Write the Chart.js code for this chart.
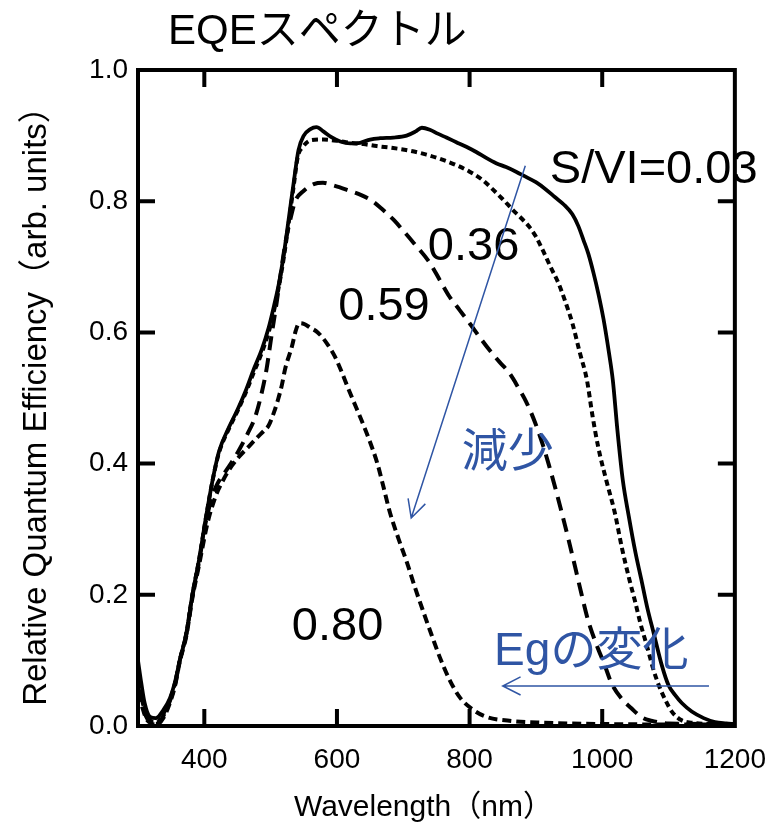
<!DOCTYPE html>
<html><head><meta charset="utf-8">
<script src="https://cdn.jsdelivr.net/npm/chart.js@4"></script>
<style>html,body{margin:0;padding:0;background:#fff}</style>
</head><body>
<canvas id="c" width="783" height="829"></canvas>
<script>
// ---- data ----
const chartTitle = 'EQEスペクトル';
const xAxisTitle = 'Wavelength（nm）';
const yAxisTitle = 'Relative Quantum Efficiency（arb. units）';
const xTickValues = [400, 600, 800, 1000, 1200];
const yTickValues = [0, 0.2, 0.4, 0.6, 0.8, 1.0];
const seriesNames = ['S/VI=0.03', '0.36', '0.59', '0.80'];

const wl003 = [300,305,310,318,327,338,348,356,363,373,382,392,402,412,422,437,450,462,475,487,497,505,512,520,527,535,542,550,560,569,580,591,605,620,635,650,665,685,705,718,728,740,752,765,780,795,810,825,840,855,870,885,900,915,929,942,955,964,972,979,987,994,1002,1010,1016,1023,1031,1040,1050,1059,1068,1078,1090,1100,1110,1120,1135,1153,1170,1187,1200];
const eqe003 = [0.10,0.065,0.035,0.014,0.012,0.024,0.042,0.068,0.10,0.142,0.20,0.253,0.315,0.372,0.418,0.455,0.482,0.51,0.545,0.575,0.607,0.64,0.672,0.72,0.771,0.83,0.878,0.90,0.91,0.913,0.906,0.898,0.891,0.888,0.889,0.894,0.896,0.897,0.90,0.906,0.912,0.909,0.903,0.897,0.89,0.883,0.875,0.866,0.858,0.852,0.845,0.837,0.829,0.818,0.806,0.795,0.78,0.762,0.74,0.72,0.69,0.66,0.62,0.57,0.527,0.45,0.375,0.32,0.265,0.223,0.18,0.14,0.092,0.062,0.047,0.035,0.022,0.012,0.006,0.004,0.003];

const wl036 = [300,306,312,320,328,338,348,356,363,373,382,392,402,412,422,437,450,462,475,487,497,505,512,520,527,535,541,548,561,580,600,620,640,660,685,710,735,760,780,800,820,835,850,865,878,890,900,910,922,934,945,955,966,977,985,994,1006,1019,1030,1041,1049,1058,1068,1076,1085,1095,1105,1119,1135,1160,1200];
const eqe036 = [0.07,0.04,0.02,0.007,0.005,0.018,0.04,0.066,0.10,0.142,0.20,0.253,0.315,0.372,0.416,0.453,0.48,0.507,0.54,0.57,0.60,0.633,0.668,0.715,0.765,0.825,0.868,0.882,0.893,0.894,0.892,0.889,0.887,0.884,0.881,0.877,0.871,0.863,0.855,0.845,0.832,0.818,0.803,0.787,0.774,0.761,0.746,0.726,0.70,0.675,0.645,0.614,0.57,0.527,0.475,0.425,0.375,0.325,0.27,0.223,0.192,0.155,0.12,0.09,0.063,0.04,0.022,0.009,0.005,0.003,0.002];

const wl059 = [300,306,312,320,328,338,348,356,363,373,382,392,402,412,420,430,440,452,465,477,487,494,501,509,516,522,527,532,537,550,565,579,595,616,635,651,668,686,700,716,740,755,770,785,800,815,830,845,860,874,885,899,910,919,930,939,949,959,969,979,991,1004,1014,1029,1044,1060,1074,1100,1200];
const eqe059 = [0.06,0.035,0.015,0.005,0.003,0.015,0.038,0.064,0.10,0.14,0.198,0.25,0.31,0.35,0.37,0.385,0.40,0.42,0.445,0.472,0.51,0.545,0.593,0.645,0.695,0.735,0.76,0.782,0.80,0.816,0.826,0.828,0.824,0.817,0.81,0.802,0.788,0.771,0.755,0.736,0.706,0.68,0.654,0.634,0.614,0.593,0.573,0.555,0.538,0.515,0.495,0.462,0.43,0.40,0.36,0.325,0.285,0.243,0.20,0.16,0.125,0.092,0.065,0.042,0.027,0.013,0.008,0.004,0.003];

const wl080 = [300,306,312,320,328,338,348,356,363,373,382,392,405,417,427,437,452,467,480,490,497,505,511,517,522,532,538,543,550,560,571,585,597,607,616,625,635,648,661,670,680,693,706,718,731,743,755,770,785,805,825,860,910,1000,1200];
const eqe080 = [0.05,0.03,0.012,0.004,0.002,0.012,0.035,0.062,0.098,0.138,0.195,0.245,0.31,0.35,0.372,0.39,0.41,0.426,0.44,0.45,0.458,0.478,0.497,0.52,0.545,0.578,0.603,0.614,0.613,0.607,0.60,0.583,0.563,0.54,0.517,0.495,0.471,0.438,0.40,0.365,0.325,0.285,0.248,0.21,0.172,0.138,0.105,0.07,0.044,0.025,0.014,0.008,0.005,0.003,0.002];

// ---- styling ----
const FONT = "'Liberation Sans', Arial, 'Noto Sans CJK JP', sans-serif";
const BLUE = '#2f55a4';
const toPts = (xs, ys) => xs.map((x, i) => ({x, y: ys[i]}));

const seriesData = [toPts(wl003, eqe003), toPts(wl036, eqe036), toPts(wl059, eqe059), toPts(wl080, eqe080)];
const seriesDash = [[], [6, 4], [14, 8], [9, 5]];
const seriesWidth = [3.8, 4, 4, 4];

// annotations (positioned in data units)
const notes = [
  {text: seriesNames[0], x: 921, y: 0.828, size: 47, color: '#000', base: 'alphabetic'},
  {text: seriesNames[1], x: 737, y: 0.710, size: 47, color: '#000', base: 'alphabetic'},
  {text: seriesNames[2], x: 602, y: 0.619, size: 47, color: '#000', base: 'alphabetic'},
  {text: seriesNames[3], x: 532, y: 0.131, size: 47, color: '#000', base: 'alphabetic'},
  {text: '減少', x: 788, y: 0.415, size: 46, color: BLUE, base: 'middle'},
  {text: 'Egの変化', x: 837, y: 0.093, size: 46, color: BLUE, base: 'alphabetic'}
];
const arrows = [
  {from: [884, 0.854], to: [712, 0.317]},
  {from: [1161, 0.061], to: [850, 0.061]}
];

const annotatePlugin = {
  id: 'annotate',
  afterDatasetsDraw(chart) {
    const {ctx, scales: {x, y}} = chart;
    ctx.save();
    notes.forEach(n => {
      ctx.font = n.size + 'px ' + FONT;
      ctx.fillStyle = n.color;
      ctx.textAlign = 'left';
      ctx.textBaseline = n.base;
      ctx.fillText(n.text, x.getPixelForValue(n.x), y.getPixelForValue(n.y));
    });
    ctx.strokeStyle = BLUE;
    ctx.lineWidth = 1.5;
    arrows.forEach(a => {
      const x0 = x.getPixelForValue(a.from[0]), y0 = y.getPixelForValue(a.from[1]);
      const x1 = x.getPixelForValue(a.to[0]), y1 = y.getPixelForValue(a.to[1]);
      const ang = Math.atan2(y1 - y0, x1 - x0);
      const L = 20, h = 0.47;
      ctx.beginPath();
      ctx.moveTo(x0, y0); ctx.lineTo(x1, y1);
      ctx.moveTo(x1 - L * Math.cos(ang - h), y1 - L * Math.sin(ang - h));
      ctx.lineTo(x1, y1);
      ctx.lineTo(x1 - L * Math.cos(ang + h), y1 - L * Math.sin(ang + h));
      ctx.stroke();
    });
    // chart title
    ctx.font = '42px ' + FONT;
    ctx.fillStyle = '#000';
    ctx.textAlign = 'left';
    ctx.textBaseline = 'alphabetic';
    ctx.fillText(chartTitle, 168, 44);
    // x axis title
    ctx.font = '30px ' + FONT;
    ctx.textAlign = 'center';
    ctx.fillText(xAxisTitle, (chart.chartArea.left + chart.chartArea.right) / 2 - 13, 816);
    ctx.restore();
  },
  afterDraw(chart) {
    const {ctx, chartArea: a, scales: {x, y}} = chart;
    ctx.save();
    ctx.strokeStyle = '#000';
    ctx.lineWidth = 4;
    ctx.strokeRect(a.left, a.top, a.right - a.left, a.bottom - a.top);
    const T = 17;
    ctx.beginPath();
    xTickValues.forEach(v => {
      const p = x.getPixelForValue(v);
      if (p > a.left + 3 && p < a.right - 3) {
        ctx.moveTo(p, a.bottom); ctx.lineTo(p, a.bottom - T);
        ctx.moveTo(p, a.top); ctx.lineTo(p, a.top + T);
      }
    });
    yTickValues.forEach(v => {
      const p = y.getPixelForValue(v);
      if (p > a.top + 3 && p < a.bottom - 3) {
        ctx.moveTo(a.left, p); ctx.lineTo(a.left + T, p);
        ctx.moveTo(a.right, p); ctx.lineTo(a.right - T, p);
      }
    });
    ctx.stroke();
    ctx.restore();
  }
};

new Chart(document.getElementById('c'), {
  type: 'line',
  data: {
    datasets: seriesData.map((d, i) => ({
      label: seriesNames[i],
      data: d,
      borderColor: '#000',
      backgroundColor: '#000',
      borderWidth: seriesWidth[i],
      borderDash: seriesDash[i],
      pointRadius: 0,
      fill: false,
      cubicInterpolationMode: 'monotone'
    }))
  },
  options: {
    responsive: false,
    animation: false,
    events: [],
    layout: {padding: {top: 70, right: 40, left: 0, bottom: 0}},
    plugins: {legend: {display: false}, tooltip: {enabled: false}, title: {display: false}},
    scales: {
      x: {
        type: 'linear', min: 300, max: 1200,
        grid: {display: false, drawTicks: false},
        border: {display: false},
        afterBuildTicks: s => { s.ticks = xTickValues.map(v => ({value: v})); },
        afterFit: s => { s.height = 103; },
        ticks: {color: '#000', font: {family: FONT, size: 28}, padding: 17, maxRotation: 0, autoSkip: false, callback: v => String(v)}
      },
      y: {
        type: 'linear', min: 0, max: 1.0,
        grid: {display: false, drawTicks: false},
        border: {display: false},
        afterBuildTicks: s => { s.ticks = yTickValues.map(v => ({value: v})); },
        afterFit: s => { s.width = 138; },
        ticks: {color: '#000', font: {family: FONT, size: 28}, padding: 10, autoSkip: false, callback: v => Number(v).toFixed(1)},
        title: {display: true, text: yAxisTitle, color: '#000', font: {family: FONT, size: 33}, padding: {top: 17, bottom: 0}}
      }
    }
  },
  plugins: [annotatePlugin]
});
</script>
</body></html>
